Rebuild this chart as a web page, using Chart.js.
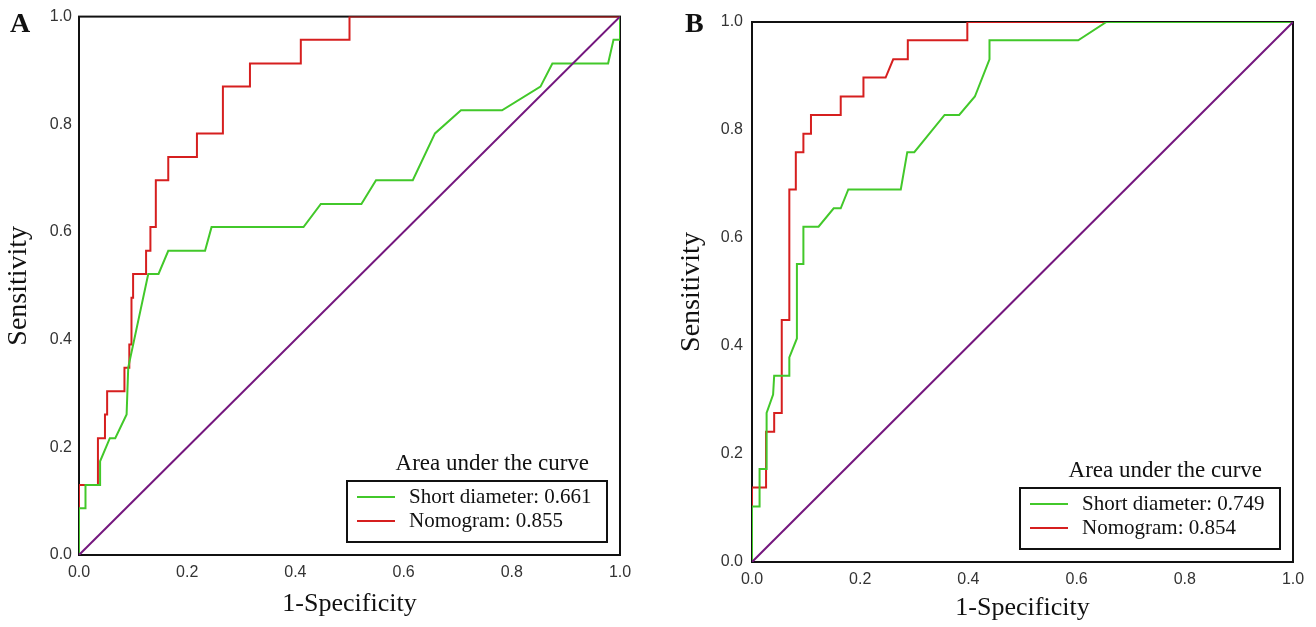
<!DOCTYPE html>
<html>
<head>
<meta charset="utf-8">
<script src="https://cdn.jsdelivr.net/npm/chart.js@4.4.1/dist/chart.umd.min.js"></script>
<style>
  body { margin: 0; background: #fff; }
  .panel { position: absolute; top: 0; width: 658px; height: 627px; }
</style>
</head>
<body>
<div class="panel" style="left:0"><canvas id="panel-a"></canvas></div>
<div class="panel" style="left:658px"><canvas id="panel-b"></canvas></div>
<script>
// values
const axisTicks = [0, 0.2, 0.4, 0.6, 0.8, 1.0];
const seriesNames = ['Short diameter', 'Nomogram'];
const aucA = [0.661, 0.855];
const aucB = [0.749, 0.854];

const aShortFpr = [0, 0, 0.012, 0.012, 0.039, 0.039, 0.057, 0.067, 0.088, 0.091, 0.128, 0.147, 0.165, 0.233, 0.245, 0.415, 0.447, 0.522, 0.549, 0.617, 0.658, 0.706, 0.782, 0.853, 0.875, 0.978, 0.988, 1, 1];
const aShortTpr = [0, 0.087, 0.087, 0.13, 0.13, 0.174, 0.217, 0.217, 0.261, 0.348, 0.522, 0.522, 0.565, 0.565, 0.609, 0.609, 0.652, 0.652, 0.696, 0.696, 0.783, 0.826, 0.826, 0.87, 0.913, 0.913, 0.957, 0.957, 1];
const aNomoFpr = [0, 0, 0.035, 0.035, 0.048, 0.048, 0.052, 0.052, 0.084, 0.084, 0.093, 0.093, 0.097, 0.097, 0.1, 0.1, 0.124, 0.124, 0.132, 0.132, 0.142, 0.142, 0.165, 0.165, 0.218, 0.218, 0.266, 0.266, 0.316, 0.316, 0.41, 0.41, 0.5, 0.5, 1];
const aNomoTpr = [0, 0.13, 0.13, 0.217, 0.217, 0.261, 0.261, 0.304, 0.304, 0.348, 0.348, 0.391, 0.391, 0.478, 0.478, 0.522, 0.522, 0.565, 0.565, 0.609, 0.609, 0.696, 0.696, 0.739, 0.739, 0.783, 0.783, 0.87, 0.87, 0.913, 0.913, 0.957, 0.957, 1, 1];

const bShortFpr = [0, 0, 0.014, 0.014, 0.027, 0.027, 0.039, 0.041, 0.069, 0.069, 0.083, 0.083, 0.095, 0.095, 0.123, 0.151, 0.164, 0.178, 0.275, 0.287, 0.3, 0.356, 0.383, 0.412, 0.439, 0.439, 0.603, 0.655, 1];
const bShortTpr = [0, 0.103, 0.103, 0.172, 0.172, 0.276, 0.31, 0.345, 0.345, 0.379, 0.414, 0.552, 0.552, 0.621, 0.621, 0.655, 0.655, 0.69, 0.69, 0.759, 0.759, 0.828, 0.828, 0.862, 0.931, 0.966, 0.966, 1, 1];
const bNomoFpr = [0, 0, 0.026, 0.026, 0.041, 0.041, 0.055, 0.055, 0.069, 0.069, 0.081, 0.081, 0.095, 0.095, 0.109, 0.109, 0.164, 0.164, 0.206, 0.206, 0.247, 0.261, 0.288, 0.288, 0.398, 0.398, 1];
const bNomoTpr = [0, 0.138, 0.138, 0.241, 0.241, 0.276, 0.276, 0.448, 0.448, 0.69, 0.69, 0.759, 0.759, 0.793, 0.793, 0.828, 0.828, 0.862, 0.862, 0.897, 0.897, 0.931, 0.931, 0.966, 0.966, 1, 1];

const refFpr = [0, 1];
const refTpr = [0, 1];

const GREEN = '#42c82a';
const RED = '#d61f1f';
const PURPLE = '#74177e';

Chart.defaults.font.family = '"Liberation Sans", Arial, sans-serif';

function toPoints(xs, ys) {
  return xs.map((x, i) => ({ x: x, y: ys[i] }));
}

// black box round the plot area, drawn under the curves
const frame = {
  id: 'frame',
  beforeDatasetsDraw(chart) {
    const a = chart.chartArea;
    const ctx = chart.ctx;
    ctx.save();
    ctx.strokeStyle = '#111';
    ctx.lineWidth = 2;
    ctx.strokeRect(a.left, a.top, a.right - a.left, a.bottom - a.top);
    ctx.restore();
  }
};

// "Area under the curve" box in the lower right corner
const aucLegend = {
  id: 'aucLegend',
  afterDatasetsDraw(chart, args, opts) {
    const a = chart.chartArea;
    const ctx = chart.ctx;
    const boxW = 260, boxH = 61;
    const left = a.right - 13 - boxW;
    const top = a.bottom - 13 - boxH;
    ctx.save();
    ctx.fillStyle = '#fff';
    ctx.fillRect(left, top, boxW, boxH);
    ctx.strokeStyle = '#111';
    ctx.lineWidth = 2;
    ctx.strokeRect(left, top, boxW, boxH);
    ctx.fillStyle = '#111';
    ctx.font = '23px "Liberation Serif", "Times New Roman", serif';
    ctx.textAlign = 'right';
    ctx.textBaseline = 'alphabetic';
    ctx.fillText('Area under the curve', left + boxW - 18, top - 11);
    ctx.font = '21px "Liberation Serif", "Times New Roman", serif';
    ctx.textAlign = 'left';
    ctx.textBaseline = 'middle';
    let row = 0;
    chart.data.datasets.forEach(ds => {
      if (!ds.inLegend) return;
      const y = top + 16 + row * 24;
      ctx.strokeStyle = ds.borderColor;
      ctx.lineWidth = 2;
      ctx.beginPath();
      ctx.moveTo(left + 10, y);
      ctx.lineTo(left + 48, y);
      ctx.stroke();
      ctx.fillStyle = '#111';
      ctx.fillText(ds.label, left + 62, y);
      row++;
    });
    ctx.restore();
  }
};

const panelLetter = {
  id: 'panelLetter',
  afterDraw(chart, args, opts) {
    const ctx = chart.ctx;
    ctx.save();
    ctx.fillStyle = '#111';
    ctx.font = 'bold 28px "Liberation Serif", "Times New Roman", serif';
    ctx.textAlign = 'left';
    ctx.textBaseline = 'alphabetic';
    ctx.fillText(opts.text, opts.x, opts.y);
    ctx.restore();
  }
};

function makePanel(id, letter, auc, shortFpr, shortTpr, nomoFpr, nomoTpr, lay) {
  return new Chart(id, {
    type: 'scatter',
    data: {
      datasets: [
        {
          label: 'reference',
          data: toPoints(refFpr, refTpr),
          borderColor: PURPLE,
          borderWidth: 2,
          inLegend: false,
        },
        {
          label: seriesNames[0] + ': ' + auc[0].toFixed(3),
          data: toPoints(shortFpr, shortTpr),
          borderColor: GREEN,
          borderWidth: 2,
          inLegend: true,
        },
        {
          label: seriesNames[1] + ': ' + auc[1].toFixed(3),
          data: toPoints(nomoFpr, nomoTpr),
          borderColor: RED,
          borderWidth: 2,
          inLegend: true,
        },
      ],
    },
    options: {
      responsive: true,
      maintainAspectRatio: false,
      animation: false,
      showLine: true,
      datasets: { scatter: { clip: 0 } },
      elements: {
        point: { radius: 0, hoverRadius: 0 },
        line: { tension: 0, fill: false },
      },
      layout: {
        padding: { left: 0, top: lay.top, right: lay.right, bottom: 0 },
      },
      scales: {
        x: {
          type: 'linear',
          min: 0,
          max: 1,
          afterFit(scale) { scale.height = lay.xHeight; },
          afterBuildTicks(scale) { scale.ticks = axisTicks.map(v => ({ value: v })); },
          grid: { display: false, drawTicks: false },
          border: { display: false },
          ticks: {
            padding: 8,
            color: '#333',
            font: { size: 16 },
            maxRotation: 0,
            callback: v => v.toFixed(1),
          },
          title: {
            display: true,
            text: '1-Specificity',
            color: '#111',
            padding: { top: 0, bottom: lay.xTitlePad },
            font: { size: 26, family: '"Liberation Serif", "Times New Roman", serif' },
          },
        },
        y: {
          type: 'linear',
          min: 0,
          max: 1,
          afterFit(scale) { scale.width = lay.yWidth; },
          afterBuildTicks(scale) { scale.ticks = axisTicks.map(v => ({ value: v })); },
          grid: { display: false, drawTicks: false },
          border: { display: false },
          ticks: {
            padding: lay.yTickPad,
            color: '#333',
            font: { size: 16 },
            callback: v => v.toFixed(1),
          },
          title: {
            display: true,
            text: 'Sensitivity',
            color: '#111',
            padding: { top: lay.yTitlePad, bottom: 0 },
            font: { size: 28, family: '"Liberation Serif", "Times New Roman", serif' },
          },
        },
      },
      plugins: {
        legend: { display: false },
        tooltip: { enabled: false },
        panelLetter: { text: letter, x: lay.letterX, y: 32 },
      },
    },
    plugins: [frame, aucLegend, panelLetter],
  });
}

makePanel('panel-a', 'A', aucA, aShortFpr, aShortTpr, aNomoFpr, aNomoTpr,
  { top: 15, right: 38, xHeight: 72, yWidth: 79, yTickPad: 7, yTitlePad: 2, xTitlePad: 7, letterX: 10 });
makePanel('panel-b', 'B', aucB, bShortFpr, bShortTpr, bNomoFpr, bNomoTpr,
  { top: 22, right: 23, xHeight: 65, yWidth: 94, yTickPad: 9, yTitlePad: 17, xTitlePad: 3, letterX: 27 });
</script>
</body>
</html>
